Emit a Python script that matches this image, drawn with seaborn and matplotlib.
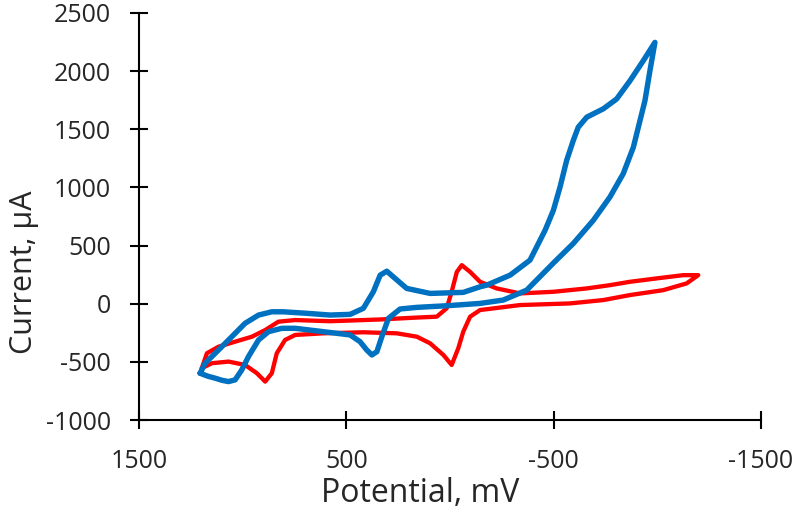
import pandas as pd
import matplotlib
matplotlib.use('Agg')
import matplotlib.pyplot as plt
import seaborn as sns

# Red voltammogram, traced once round the loop (mV, uA)
red_potential = [1198, 1149, 1069, 989, 932, 892, 860, 836, 796, 747, 611, 418, 257, 160, 96,
                 32, -8, -40, -64, -97, -145, -338, -579, -740, -869, -1029, -1142, -1198,
                 -1126, -997, -869, -772, -660, -499, -338, -225, -145, -97, -57, -33, -8, 16,
                 64, 177, 337, 498, 579, 747, 828, 892, 956, 1037, 1117, 1173, 1198]
red_current = [-554, -511, -497, -526, -597, -669, -597, -425, -311, -268, -254, -245, -254, -283, -340,
               -440, -526, -382, -240, -111, -54, -11, 3, 32, 75, 117, 175, 246,
               246, 218, 189, 160, 132, 103, 89, 132, 189, 274, 332, 274, 103, -39,
               -111, -120, -135, -145, -150, -140, -154, -226, -283, -326, -369, -425, -554]

# Blue voltammogram
blue_potential = [1206, 1170, 1133, 1100, 1069, 1037, 1005, 973, 924, 876, 812, 747, 611, 546,
                  482, 434, 402, 377, 353, 329, 297, 241, 160, 16, -145, -257, -370,
                  -499, -595, -692, -772, -836, -885, -917, -941, -965, -989,
                  -933, -869, -804, -740, -660, -619, -595, -563, -531, -499, -459, -386, -290,
                  -177, -145, -64, 96, 209, 265, 305, 337, 370, 418, 482, 579, 691, 804, 860,
                  924, 989, 1053, 1117, 1182, 1206]
blue_current = [-597, -622, -640, -658, -669, -654, -569, -455, -311, -240, -211, -211, -240, -254,
                -268, -326, -397, -440, -412, -283, -125, -45, -31, -17, 3, 32, 117,
                350, 518, 718, 918, 1118, 1346, 1575, 1747, 2004, 2247,
                2090, 1918, 1760, 1676, 1604, 1518, 1404, 1232, 1003, 804, 632, 375, 246,
                160, 146, 98, 89, 132, 218, 280, 246, 103, -39, -91, -97, -82, -69, -69,
                -97, -168, -283, -397, -511, -597]

x_ticks = [1500, 500, -500, -1500]
y_ticks = [-1000, -500, 0, 500, 1000, 1500, 2000, 2500]

red = pd.DataFrame({'Potential': red_potential, 'Current': red_current})
blue = pd.DataFrame({'Potential': blue_potential, 'Current': blue_current})

sns.set_style('white')
plt.rcParams['font.family'] = ['Open Sans', 'DejaVu Sans']

fig = plt.figure(figsize=(8, 5.18), dpi=100)
ax = fig.add_axes([0.174, 0.189, 0.777, 0.786])

sns.lineplot(data=red, x='Potential', y='Current', sort=False, estimator=None,
             color='#FF0000', linewidth=3.1, ax=ax)
sns.lineplot(data=blue, x='Potential', y='Current', sort=False, estimator=None,
             color='#0070C0', linewidth=3.9, ax=ax)
for line in ax.lines:
    line.set_solid_joinstyle('round')
    line.set_solid_capstyle('round')

ax.set_xlim(1500, -1500)
ax.set_ylim(-1000, 2500)
ax.set_xticks(x_ticks)
ax.set_yticks(y_ticks)
ax.set_xticklabels([str(t) for t in x_ticks])
ax.set_yticklabels([str(t) for t in y_ticks])

sns.despine(ax=ax)
for side in ['left', 'bottom']:
    ax.spines[side].set_color('black')
    ax.spines[side].set_linewidth(1.5)
ax.tick_params(direction='inout', length=13, width=1.5, color='black',
               labelsize=18, pad=14, left=True, bottom=True)

ax.set_xlabel('Potential, mV', fontsize=23)
ax.set_ylabel('Current, µA', fontsize=22)
ax.xaxis.set_label_coords(0.452, -0.14)
ax.yaxis.set_label_coords(-0.162, 0.364)

fig.savefig('out.png', dpi=100)
